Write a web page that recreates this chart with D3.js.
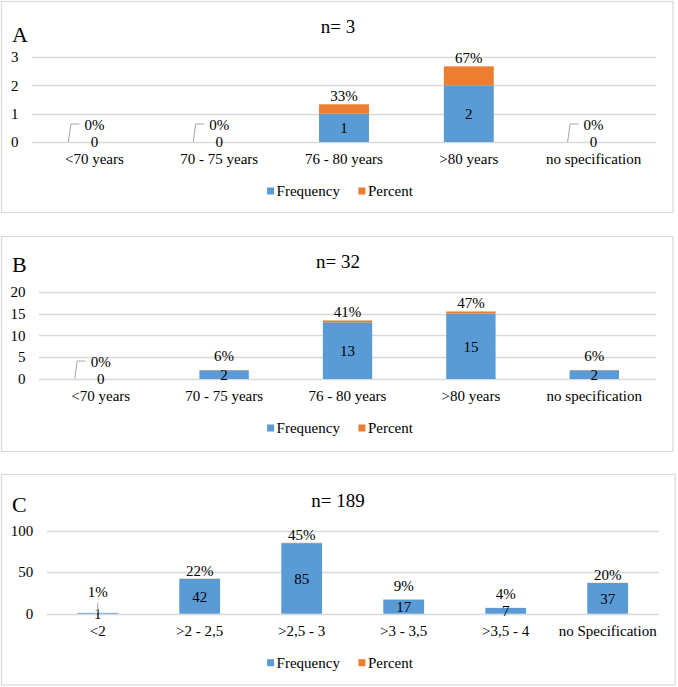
<!DOCTYPE html>
<html><head><meta charset="utf-8">
<script src="https://cdn.jsdelivr.net/npm/d3@7"></script>
<style>body{margin:0;background:#fff}</style>
</head><body><svg id="c" width="678" height="687" font-family="'Liberation Serif', 'Times New Roman', Times, serif"></svg>
<script>
// ---- data ----
const ageCategories = ["<70 years", "70 - 75 years", "76 - 80 years", ">80 years", "no specification"];
const freqA = [0, 0, 1, 2, 0];
const pctA = [0, 0, 0.33, 0.67, 0];
const ticksA = [0, 1, 2, 3];

const freqB = [0, 2, 13, 15, 2];
const pctB = [0, 0.06, 0.41, 0.47, 0.06];
const ticksB = [0, 5, 10, 15, 20];

const weightCategories = ["<2", ">2 - 2,5", ">2,5 - 3", ">3 - 3,5", ">3,5 - 4", "no Specification"];
const freqC = [1, 42, 85, 17, 7, 37];
const pctC = [0.01, 0.22, 0.45, 0.09, 0.04, 0.20];
const ticksC = [0, 50, 100];

const seriesNames = ["Frequency", "Percent"];
const titles = ["n= 3", "n= 32", "n= 189"];
const letters = ["A", "B", "C"];

// ---- layout / style ----
const BLUE = "#5B9BD5", ORANGE = "#ED7D31", GRID = "#D9D9D9", LEAD = "#A6A6A6";
const FONT = "'Liberation Serif', 'Times New Roman', Times, serif";
const FS = 15;
const svg = d3.select("#c");

const panels = [
  {letter: letters[0], title: titles[0], cats: ageCategories, freq: freqA, pct: pctA, ticks: ticksA,
   box: {x: 1.5, y: 1.5, w: 671.5, h: 211}, xr: [32, 656], yr: [142, 57], titleY: 33, letterY: 41.7},
  {letter: letters[1], title: titles[1], cats: ageCategories, freq: freqB, pct: pctB, ticks: ticksB,
   box: {x: 1.5, y: 236.5, w: 671.5, h: 215}, xr: [39, 656], yr: [379, 291.7], titleY: 267.7, letterY: 271.7},
  {letter: letters[2], title: titles[2], cats: weightCategories, freq: freqC, pct: pctC, ticks: ticksC,
   box: {x: 1.5, y: 474.5, w: 673.5, h: 210.5}, xr: [46.7, 658.7], yr: [613.7, 530.7], titleY: 507, letterY: 512}
];

function txt(sel) { return sel.append("text").attr("font-family", FONT).attr("fill", "#000"); }

panels.forEach(p => {
  const g = svg.append("g");
  g.append("rect").attr("x", p.box.x).attr("y", p.box.y).attr("width", p.box.w).attr("height", p.box.h)
    .attr("fill", "#fff").attr("stroke", GRID).attr("stroke-width", 1.2);

  const x = d3.scaleBand().domain(p.cats).range(p.xr).paddingInner(0.6).paddingOuter(0.3);
  const y = d3.scaleLinear().domain([0, d3.max(p.ticks)]).range(p.yr);

  // gridlines
  g.selectAll("line.grid").data(p.ticks).join("line")
    .attr("x1", p.xr[0]).attr("x2", p.xr[1])
    .attr("y1", d => Math.round(y(d)) + 0.5).attr("y2", d => Math.round(y(d)) + 0.5)
    .attr("stroke", GRID).attr("stroke-width", 1.3);

  // y tick labels
  g.selectAll("text.tick").data(p.ticks).join("text")
    .attr("font-family", FONT)
    .attr("x", p.xr[0] - 13.5).attr("y", d => y(d)).attr("dy", "0.35em")
    .attr("text-anchor", "end").attr("font-size", FS).attr("fill", "#000").text(d => d);

  // category labels
  g.selectAll("text.cat").data(p.cats).join("text")
    .attr("font-family", FONT)
    .attr("x", d => x(d) + x.bandwidth() / 2).attr("y", p.yr[0] + 22)
    .attr("text-anchor", "middle").attr("font-size", FS).attr("fill", "#000").text(d => d);

  const rows = p.cats.map((c, i) => ({c, f: p.freq[i], pc: p.pct[i]}));

  // bars
  g.selectAll("rect.f").data(rows).join("rect")
    .attr("x", d => x(d.c)).attr("width", x.bandwidth())
    .attr("y", d => y(d.f)).attr("height", d => y(0) - y(d.f)).attr("fill", BLUE);
  g.selectAll("rect.p").data(rows).join("rect")
    .attr("x", d => x(d.c)).attr("width", x.bandwidth())
    .attr("y", d => y(d.f + d.pc)).attr("height", d => y(d.f) - y(d.f + d.pc)).attr("fill", ORANGE);

  rows.forEach(d => {
    const cx = x(d.c) + x.bandwidth() / 2;
    const y0 = y(0);
    const top = y(d.f + d.pc);
    const blueH = y0 - y(d.f);
    // frequency label
    txt(g).attr("x", cx).attr("y", (y(d.f) + y0) / 2).attr("dy", "0.35em")
      .attr("text-anchor", "middle").attr("font-size", FS).text(d.f);
    const pctText = Math.round(d.pc * 100) + "%";
    if (d.f === 0) {
      txt(g).attr("x", cx).attr("y", y0 - 12.5).attr("text-anchor", "middle")
        .attr("font-size", FS).text(pctText);
      g.append("path").attr("d", `M${cx - 26},${y0}L${cx - 23.5},${y0 - 18}L${cx - 15},${y0 - 18}`)
        .attr("fill", "none").attr("stroke", LEAD).attr("stroke-width", 1);
    } else if (blueH < 3) {
      txt(g).attr("x", cx).attr("y", y0 - 16.5).attr("text-anchor", "middle")
        .attr("font-size", FS).text(pctText);
      g.append("line").attr("x1", cx).attr("x2", cx).attr("y1", y0 - 11).attr("y2", y0 - 1)
        .attr("stroke", LEAD).attr("stroke-width", 1);
    } else {
      const off = blueH < 20 ? 9 : 3;
      txt(g).attr("x", cx).attr("y", top - off).attr("text-anchor", "middle")
        .attr("font-size", FS).text(pctText);
    }
  });

  // title & panel letter
  txt(g).attr("x", 338).attr("y", p.titleY).attr("text-anchor", "middle")
    .attr("font-size", 19).text(p.title);
  txt(g).attr("x", 12).attr("y", p.letterY).attr("font-size", 22).text(p.letter);

  // legend
  const lg = g.append("g");
  let cur = 0;
  seriesNames.forEach((n, i) => {
    lg.append("rect").attr("x", cur).attr("y", -3.5).attr("width", 7).attr("height", 7)
      .attr("fill", i === 0 ? BLUE : ORANGE);
    const t = txt(lg).attr("x", cur + 9.5).attr("y", 0).attr("dy", "0.33em")
      .attr("font-size", FS).text(n);
    cur += 9.5 + t.node().getComputedTextLength() + 18.5;
  });
  const total = cur - 18.5;
  lg.attr("transform", `translate(${340 - total / 2},${p.yr[0] + 49})`);
});
</script></body></html>
